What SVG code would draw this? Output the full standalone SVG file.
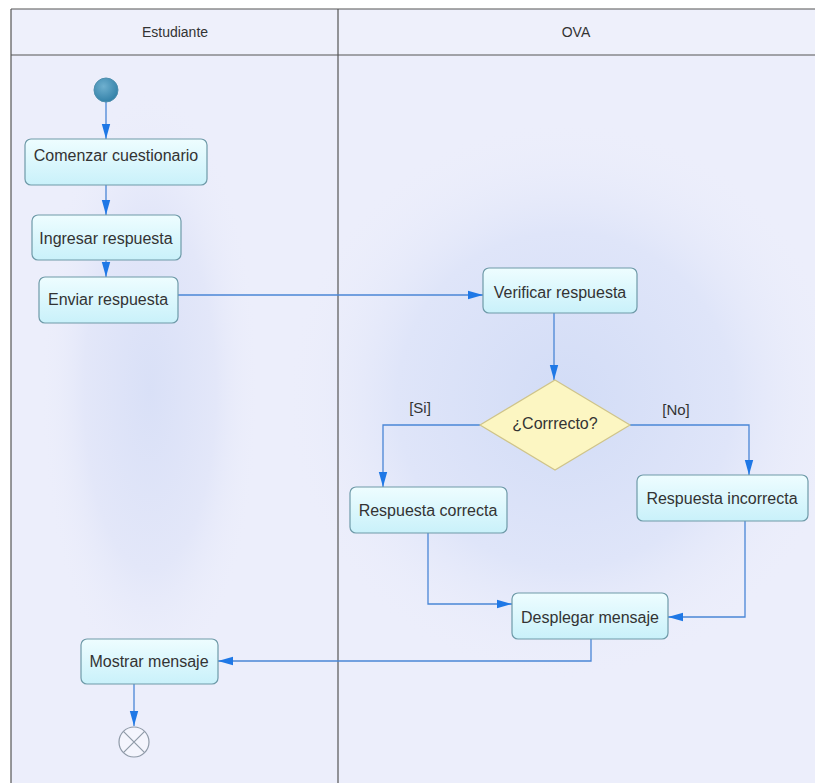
<svg xmlns="http://www.w3.org/2000/svg" width="815" height="783" viewBox="0 0 815 783">
  <defs>
    <style>
      .lane-title { font-family: "Liberation Sans", Arial, sans-serif; font-size: 14px; fill: #333; text-anchor: middle; }
      .label { font-family: "Liberation Sans", Arial, sans-serif; font-size: 16px; fill: #333; text-anchor: middle; }
      .guard { font-family: "Liberation Sans", Arial, sans-serif; font-size: 15px; fill: #333; text-anchor: middle; }
      .action { fill: url(#actionFill); stroke: #6e9aa8; stroke-width: 1.2; }
      .flow { fill: none; stroke: #4a86d6; stroke-width: 1.3; marker-end: url(#arrow); }
      .frame { stroke: #555; stroke-width: 1.2; fill: none; }
    </style>
    <linearGradient id="actionFill" x1="0" y1="0" x2="0" y2="1">
      <stop offset="0" stop-color="#eefdff"/>
      <stop offset="1" stop-color="#c9f1fa"/>
    </linearGradient>
    <radialGradient id="startFill" cx="0.4" cy="0.35" r="0.7">
      <stop offset="0" stop-color="#6fb0cf"/>
      <stop offset="1" stop-color="#2f7ea6"/>
    </radialGradient>
    <radialGradient id="glowOva" cx="0.5" cy="0.5" r="0.5">
      <stop offset="0" stop-color="#d2dcf6"/>
      <stop offset="0.6" stop-color="#dfe5f9"/>
      <stop offset="1" stop-color="#eceefb" stop-opacity="0"/>
    </radialGradient>
    <radialGradient id="glowStudent" cx="0.5" cy="0.5" r="0.5">
      <stop offset="0" stop-color="#d9e0f7"/>
      <stop offset="0.6" stop-color="#e3e7f9"/>
      <stop offset="1" stop-color="#eceefb" stop-opacity="0"/>
    </radialGradient>
    <marker id="arrow" markerWidth="16" markerHeight="10" refX="15" refY="5" orient="auto" markerUnits="userSpaceOnUse">
      <path d="M0,0.8 L15,5 L0,9.2 Z" fill="#1f78e6"/>
    </marker>
  </defs>

  <!-- swimlane background -->
  <rect x="0" y="0" width="815" height="783" fill="#ffffff"/>
  <rect x="11" y="9" width="804" height="774" fill="#eceefb"/>
  <rect x="11" y="9" width="804" height="46" fill="#eef0fb"/>
  <ellipse cx="150" cy="390" rx="110" ry="300" fill="url(#glowStudent)"/>
  <ellipse cx="565" cy="400" rx="280" ry="280" fill="url(#glowOva)"/>

  <!-- swimlane frame -->
  <g id="lanes">
    <line class="frame" x1="11" y1="9" x2="815" y2="9"/>
    <line class="frame" x1="11" y1="9" x2="11" y2="783"/>
    <line class="frame" x1="11" y1="55" x2="815" y2="55"/>
    <line class="frame" x1="338" y1="9" x2="338" y2="783"/>
    <text class="lane-title" x="175" y="37">Estudiante</text>
    <text class="lane-title" x="576" y="37">OVA</text>
  </g>

  <!-- connectors -->
  <g id="connectors">
    <path class="flow" d="M106,102 V139"/>
    <path class="flow" d="M106,185 V215"/>
    <path class="flow" d="M106,260 V277"/>
    <path class="flow" d="M178,295 H483"/>
    <path class="flow" d="M554,313 V380"/>
    <path class="flow" d="M480,425 H383 V487"/>
    <path class="flow" d="M630,425 H749 V475"/>
    <path class="flow" d="M428,533 V604 H512"/>
    <path class="flow" d="M745,521 V617 H668"/>
    <path class="flow" d="M591,639 V661 H218"/>
    <path class="flow" d="M134,684 V726"/>
    <text class="guard" x="420" y="413">[Si]</text>
    <text class="guard" x="676" y="415">[No]</text>
  </g>

  <!-- nodes -->
  <g id="start">
    <circle cx="106" cy="90" r="12" fill="url(#startFill)" stroke="#4f8fae" stroke-width="1"/>
  </g>
  <g id="comenzar">
    <rect class="action" x="25" y="139" width="182" height="46" rx="6"/>
    <text class="label" x="116" y="161">Comenzar cuestionario</text>
  </g>
  <g id="ingresar">
    <rect class="action" x="32" y="215" width="149" height="45" rx="6"/>
    <text class="label" x="106" y="244">Ingresar respuesta</text>
  </g>
  <g id="enviar">
    <rect class="action" x="39" y="277" width="139" height="46" rx="6"/>
    <text class="label" x="108" y="305">Enviar respuesta</text>
  </g>
  <g id="verificar">
    <rect class="action" x="483" y="268" width="154" height="45" rx="6"/>
    <text class="label" x="560" y="298">Verificar respuesta</text>
  </g>
  <g id="decision">
    <polygon points="555,380 630,425 555,470 480,425" fill="#fcf6c2" stroke="#cfc48a" stroke-width="1.2"/>
    <text class="label" x="555" y="429">¿Corrrecto?</text>
  </g>
  <g id="correcta">
    <rect class="action" x="350" y="487" width="157" height="46" rx="6"/>
    <text class="label" x="428" y="516">Respuesta correcta</text>
  </g>
  <g id="incorrecta">
    <rect class="action" x="637" y="475" width="171" height="46" rx="6"/>
    <text class="label" x="722" y="504">Respuesta incorrecta</text>
  </g>
  <g id="desplegar">
    <rect class="action" x="512" y="593" width="156" height="46" rx="6"/>
    <text class="label" x="590" y="623">Desplegar mensaje</text>
  </g>
  <g id="mostrar">
    <rect class="action" x="81" y="639" width="137" height="45" rx="6"/>
    <text class="label" x="149" y="667">Mostrar mensaje</text>
  </g>
  <g id="final">
    <circle cx="134" cy="742" r="15" fill="#f4f5fd" stroke="#8f9aa8" stroke-width="1.2"/>
    <path d="M123.4,731.4 L144.6,752.6 M144.6,731.4 L123.4,752.6" stroke="#8f9aa8" stroke-width="1.2"/>
  </g>
</svg>
